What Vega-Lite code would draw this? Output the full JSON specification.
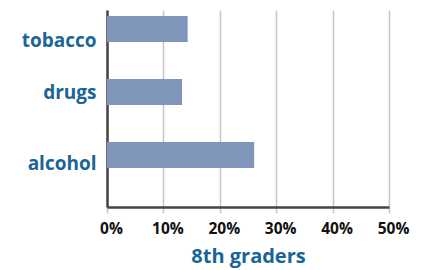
{
  "$schema": "https://vega.github.io/schema/vega-lite/v6.json",
  "autosize": "none",
  "width": 282,
  "height": 197,
  "padding": {"left": 107, "top": 10, "right": 37, "bottom": 63},
  "background": "white",
  "config": {"view": {"stroke": null}},
  "data": {"values": [
    {"substance": "tobacco", "share": 0.143},
    {"substance": "drugs", "share": 0.133},
    {"substance": "alcohol", "share": 0.261}
  ]},
  "mark": {"type": "bar", "color": "#7f96ba"},
  "encoding": {
    "y": {
      "field": "substance", "type": "nominal", "sort": null,
      "scale": {"paddingInner": 0.587, "paddingOuter": 0.357, "align": 0.133},
      "axis": {
        "title": null, "ticks": false, "grid": false,
        "domainColor": "#444444", "domainWidth": 2.5,
        "labelFont": "Open Sans", "labelFontSize": 19, "labelFontWeight": "bold",
        "labelColor": "#1a6496", "labelPadding": 11,
        "labelOffset": {"expr": "datum.value == 'tobacco' ? 12 : datum.value == 'alcohol' ? 9 : 1"}
      }
    },
    "x": {
      "field": "share", "type": "quantitative",
      "scale": {"domain": [0, 0.5], "nice": false},
      "axis": {
        "values": [0, 0.1, 0.2, 0.3, 0.4, 0.5], "format": ".0%",
        "grid": true, "gridColor": "#c6c6c6", "gridWidth": 1.5,
        "ticks": true, "tickColor": "#c6c6c6", "tickWidth": 1.5, "tickSize": 6,
        "domainColor": "#444444", "domainWidth": 2.5,
        "labelFont": "Open Sans", "labelFontSize": 15.5, "labelFontWeight": "bold",
        "labelColor": "#111111", "labelPadding": 8, "labelOffset": 4, "labelFlush": false,
        "title": "8th graders", "titleFont": "Open Sans", "titleFontSize": 20,
        "titleFontWeight": "bold", "titleColor": "#1a6496", "titlePadding": 10
      }
    }
  }
}
